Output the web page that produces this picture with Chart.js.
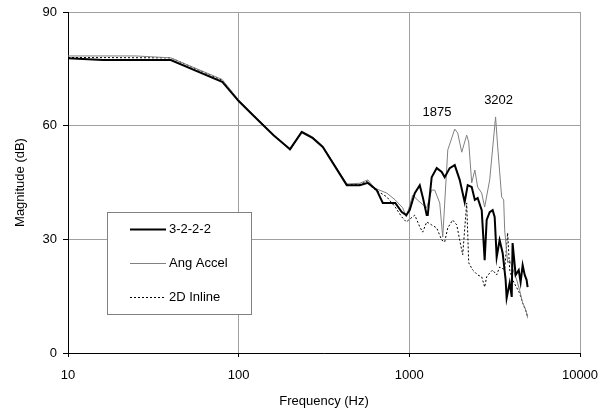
<!DOCTYPE html>
<html>
<head>
<meta charset="utf-8">
<script src="https://cdn.jsdelivr.net/npm/chart.js@4/dist/chart.umd.min.js"></script>
<style>
  html, body { margin: 0; padding: 0; background: #fff; }
  .chart-container { position: relative; width: 601px; height: 417px; }
</style>
</head>
<body>
<div class="chart-container"><canvas id="myChart"></canvas></div>
<script>
// 3-2-2-2 (Hz, dB)
const freq3222 = [10, 16, 40, 80, 100, 121, 160, 200, 234, 272, 311, 430, 513, 571, 644, 699, 800, 827, 903, 960, 1005, 1076, 1151, 1198, 1264, 1282, 1352, 1447, 1548, 1611, 1724, 1845, 1973, 2110, 2198, 2320, 2420, 2514, 2655, 2763, 2839, 2957, 3077, 3162, 3249, 3381, 3522, 3666, 3717, 3873, 3981, 4027, 4198, 4375, 4487, 4613, 4742, 4864, 4932];
const mag3222 = [77.8, 77.3, 77.3, 71.6, 66.5, 62.8, 57.5, 53.8, 58.3, 56.7, 54.4, 44.3, 44.3, 44.9, 43.0, 39.6, 39.6, 39.6, 37.2, 36.4, 37.7, 42.2, 44.3, 41.2, 36.4, 36.4, 46.4, 48.8, 47.8, 46.4, 48.8, 49.6, 45.7, 39.8, 44.3, 43.8, 40.4, 40.9, 37.7, 24.5, 35.1, 37.2, 37.7, 35.9, 25.3, 29.8, 26.4, 19.3, 14.5, 18.5, 14.8, 29.0, 20.6, 21.9, 18.7, 23.2, 20.6, 19.3, 17.4];

// Ang Accel
const freqAng = [10, 25, 40, 80, 100, 121, 160, 200, 234, 272, 311, 430, 513, 571, 627, 738, 827, 915, 960, 1047, 1114, 1264, 1352, 1409, 1507, 1569, 1680, 1845, 1920, 2028, 2168, 2228, 2320, 2420, 2514, 2655, 2763, 2957, 3202, 3294, 3474, 3571, 3620, 3767, 3873, 4256, 4426, 4613, 4742, 4864, 4932];
const magAng = [78.4, 78.4, 77.9, 72.2, 66.8, 63.0, 57.7, 53.5, 58.6, 57.0, 54.6, 44.6, 44.8, 45.7, 43.5, 42.2, 40.4, 38.3, 35.9, 41.7, 40.4, 38.3, 43.0, 43.0, 39.6, 30.6, 53.6, 59.1, 58.1, 53.0, 57.5, 55.7, 44.9, 48.3, 43.8, 42.2, 38.5, 45.7, 62.3, 54.4, 41.2, 40.4, 32.5, 23.8, 24.5, 19.3, 16.6, 13.2, 12.1, 10.6, 9.5];

// 2D Inline
const freq2d = [10, 40, 80, 100, 121, 160, 200, 234, 272, 311, 430, 513, 571, 611, 738, 827, 903, 960, 1076, 1151, 1198, 1264, 1352, 1447, 1548, 1611, 1679, 1795, 1896, 1973, 2055, 2168, 2228, 2351, 2514, 2655, 2763, 2839, 2957, 3077, 3249, 3381, 3620, 3767, 3873, 4027, 4426, 4613, 4864, 4932];
const mag2d = [78.0, 77.9, 72.0, 66.6, 62.9, 57.6, 53.7, 58.4, 56.8, 54.5, 44.5, 44.5, 45.4, 43.5, 41.2, 38.5, 35.9, 34.6, 36.4, 33.3, 31.9, 34.6, 33.8, 33.0, 29.8, 29.3, 33.0, 35.1, 33.8, 29.8, 25.9, 39.6, 23.8, 21.9, 20.6, 20.1, 17.4, 20.1, 21.1, 21.9, 20.6, 22.7, 22.0, 31.7, 21.9, 19.3, 15.8, 13.2, 10.6, 9.2];

const xTicks = [10, 100, 1000, 10000];
const yTicks = [0, 30, 60, 90];

const peakLabels = ['1875', '3202'];
const peakFreq = [1875, 3202];
const peakMag = [59.1, 62.3];

const font = { family: "'Liberation Sans', Arial, sans-serif", size: 13 };

const toPoints = (fs, ms) => fs.map((f, i) => ({ x: f, y: ms[i] }));

// legend box drawn inside the plot + peak labels
const extras = {
  id: 'extras',
  afterDraw(chart) {
    const ctx = chart.ctx;
    const sx = chart.scales.x, sy = chart.scales.y;
    ctx.save();
    ctx.font = '13px ' + font.family;
    ctx.fillStyle = '#000';
    ctx.textAlign = 'center';
    ctx.textBaseline = 'middle';
    const shift = [-19, 3];
    peakLabels.forEach((t, i) => {
      ctx.fillText(t, sx.getPixelForValue(peakFreq[i]) + shift[i], sy.getPixelForValue(peakMag[i]) - 17);
    });

    const bx = 107.5, by = 212.5, bw = 144, bh = 102;
    ctx.fillStyle = '#fff';
    ctx.fillRect(bx, by, bw, bh);
    ctx.strokeStyle = '#808080';
    ctx.lineWidth = 1;
    ctx.strokeRect(bx, by, bw, bh);
    ctx.textAlign = 'left';
    chart.data.datasets.forEach((ds, i) => {
      const y = by + 17 + i * 34;
      ctx.beginPath();
      ctx.strokeStyle = ds.borderColor;
      ctx.lineWidth = ds.borderWidth;
      ctx.setLineDash(ds.borderDash || []);
      ctx.moveTo(130, y);
      ctx.lineTo(166, y);
      ctx.stroke();
      ctx.setLineDash([]);
      ctx.fillStyle = '#000';
      ctx.fillText(ds.label, 169, y);
    });
    ctx.restore();
  }
};

new Chart(document.getElementById('myChart'), {
  type: 'line',
  data: {
    datasets: [
      { label: '3-2-2-2', data: toPoints(freq3222, mag3222), borderColor: '#000', borderWidth: 2 },
      { label: 'Ang Accel', data: toPoints(freqAng, magAng), borderColor: '#808080', borderWidth: 1 },
      { label: '2D Inline', data: toPoints(freq2d, mag2d), borderColor: '#000', borderWidth: 1, borderDash: [2, 2] }
    ]
  },
  options: {
    responsive: true,
    maintainAspectRatio: false,
    animation: false,
    layout: { padding: { top: 12, right: 21, left: 0, bottom: 0 } },
    elements: { point: { radius: 0 }, line: { tension: 0 } },
    plugins: { legend: { display: false }, tooltip: { enabled: false } },
    scales: {
      x: {
        type: 'logarithmic',
        min: 10,
        max: 10000,
        afterBuildTicks: s => { s.ticks = xTicks.map(v => ({ value: v })); },
        afterFit: s => { s.height = 64; s.paddingLeft = 0; s.paddingRight = 0; },
        ticks: { callback: v => String(v), font, color: '#000', padding: 11, autoSkip: false, maxRotation: 0 },
        grid: { color: '#a0a0a0', tickColor: '#000', tickLength: 4 },
        border: { color: '#000' },
        title: { display: true, text: 'Frequency (Hz)', font, color: '#000', padding: { top: 0, bottom: 8 } }
      },
      y: {
        min: 0,
        max: 90,
        afterBuildTicks: s => { s.ticks = yTicks.map(v => ({ value: v })); },
        afterFit: s => { s.width = 68; s.paddingTop = 0; s.paddingBottom = 0; },
        ticks: { font, color: '#000', padding: 6 },
        grid: { color: '#a0a0a0', tickColor: '#000', tickLength: 5 },
        border: { color: '#000' },
        title: { display: true, text: 'Magnitude (dB)', font, color: '#000', padding: { top: 13, bottom: 0 } }
      }
    }
  },
  plugins: [extras]
});
</script>
</body>
</html>
